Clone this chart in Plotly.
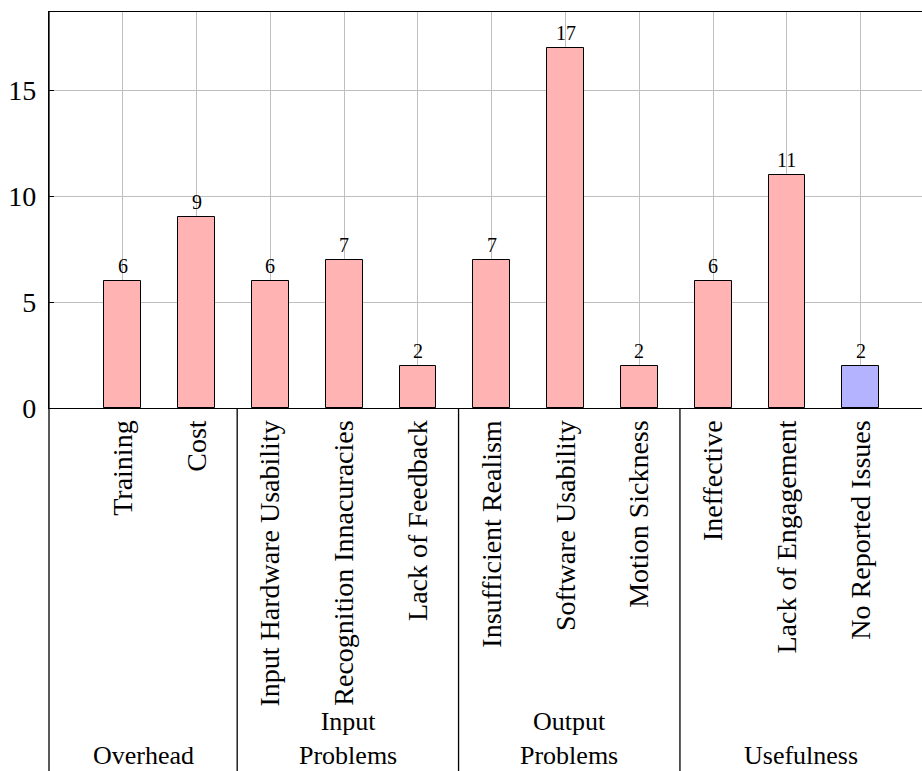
import plotly.graph_objects as go

categories = ["Training", "Cost", "Input Hardware Usability", "Recognition Innacuracies",
              "Lack of Feedback", "Insufficient Realism", "Software Usability", "Motion Sickness",
              "Ineffective", "Lack of Engagement", "No Reported Issues"]
counts = [6, 9, 6, 7, 2, 7, 17, 2, 6, 11, 2]
groups = ["Overhead", "Input Problems", "Output Problems", "Usefulness"]
group_sizes = [2, 3, 3, 3]
y_ticks = [0, 5, 10, 15]

PINK = "#ffb3b3"
BLUE = "#b3b3ff"
FONT = "Liberation Serif"

W, H = 922, 771
ML, MT, MB = 49, 12, 363
plot_h = H - MT - MB

colors = [BLUE if c == "No Reported Issues" else PINK for c in categories]
xs = list(range(len(categories)))

fig = go.Figure()
fig.add_trace(go.Bar(
    x=xs, y=counts, width=0.5,
    marker=dict(color=colors, line=dict(color="black", width=1)),
    hoverinfo="skip",
))

annotations = []
for x, v in zip(xs, counts):
    annotations.append(dict(x=x, y=v, xref="x", yref="y", text=str(v), showarrow=False,
                            yanchor="bottom", yshift=2,
                            font=dict(family=FONT, size=20, color="black")))

x_min, x_max = -1.0, 10.83
shapes = []
shapes.append(dict(type="line", xref="paper", yref="paper", x0=0, x1=0, y0=-1.0, y1=1,
                   line=dict(color="black", width=1.3)))
start = 0
bounds = [x_min]
for g, n in zip(groups, group_sizes):
    end = start + n - 1
    bounds.append(end + 0.55 if end < len(categories) - 1 else x_max)
    start += n
for b in bounds[1:-1]:
    shapes.append(dict(type="line", xref="x", yref="paper", x0=b, x1=b, y0=-1.0, y1=0,
                       line=dict(color="black", width=1.3)))


def py(pixel):
    return (H - MB - pixel) / plot_h


for i, g in enumerate(groups):
    cx = (bounds[i] + bounds[i + 1]) / 2
    annotations.append(dict(x=cx, y=py(771), xref="x", yref="paper",
                            text="<br>".join(g.split(" ")),
                            showarrow=False, yanchor="bottom", xanchor="center",
                            borderpad=0, align="center",
                            font=dict(family=FONT, size=26, color="black")))

fig.update_layout(
    width=W, height=H,
    margin=dict(l=ML, r=0, t=MT, b=MB, pad=0),
    paper_bgcolor="white", plot_bgcolor="white",
    showlegend=False, bargap=0,
    annotations=annotations, shapes=shapes,
    font=dict(family=FONT, color="black"),
)
fig.update_xaxes(
    range=[x_min, x_max], tickvals=xs, ticktext=categories, tickangle=-90,
    tickfont=dict(family=FONT, size=28, color="black"),
    showgrid=True, gridcolor="#bfbfbf", gridwidth=1,
    showline=True, linecolor="black", linewidth=1.3, mirror=True,
    ticks="", zeroline=False, ticklabelstandoff=0,
)
fig.update_yaxes(
    range=[0, 18.68], tickvals=y_ticks,
    tickfont=dict(family=FONT, size=28, color="black"),
    showgrid=True, gridcolor="#bfbfbf", gridwidth=1,
    showline=True, linecolor="black", linewidth=1.3,
    ticks="inside", ticklen=5, tickcolor="black", zeroline=False,
    ticklabelstandoff=6,
)

fig.write_html("out.html", config={"displayModeBar": False})
